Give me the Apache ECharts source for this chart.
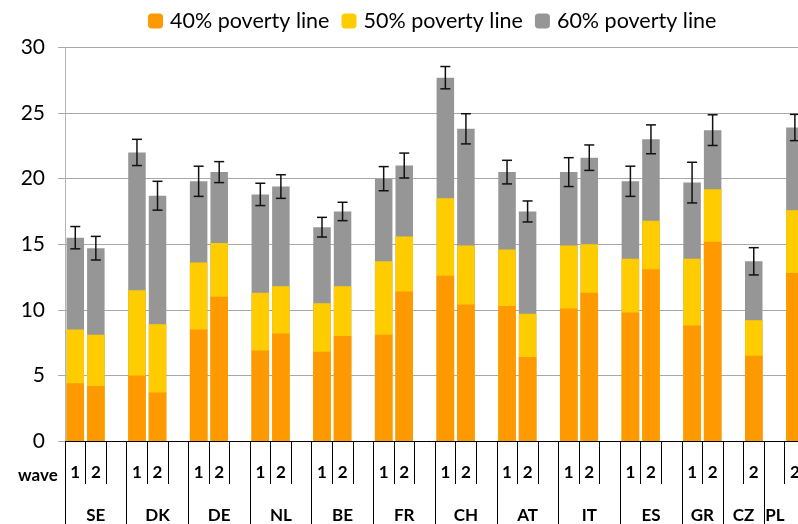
<!DOCTYPE html>
<html>
<head>
<meta charset="utf-8">
<script src="https://cdn.jsdelivr.net/npm/echarts@6/dist/echarts.min.js"></script>
<style>html,body{margin:0;padding:0;background:#fff;}#c{width:798px;height:524px;}</style>
</head>
<body>
<div id="c"></div>
<script>
// One entry per axis slot (wave 1, wave 2, spacer) ; null = no bar
const waveLabels = ['1','2','', '1','2','', '1','2','', '1','2','', '1','2','', '1','2','', '1','2','', '1','2','', '1','2','', '1','2','', '1','2', '','2', '','2'];
const pov40 = [4.4,4.2,null, 5.0,3.7,null, 8.5,11.0,null, 6.9,8.2,null, 6.8,8.0,null, 8.1,11.4,null, 12.6,10.4,null, 10.3,6.4,null, 10.1,11.3,null, 9.8,13.1,null, 8.8,15.2, null,6.5, null,12.8];
const pov50 = [8.5,8.1,null, 11.5,8.9,null, 13.6,15.1,null, 11.3,11.8,null, 10.5,11.8,null, 13.7,15.6,null, 18.5,14.9,null, 14.6,9.7,null, 14.9,15.0,null, 13.9,16.8,null, 13.9,19.2, null,9.2, null,17.6];
const pov60 = [15.5,14.7,null, 22.0,18.7,null, 19.8,20.5,null, 18.8,19.4,null, 16.3,17.5,null, 20.0,21.0,null, 27.7,23.8,null, 20.5,17.5,null, 20.5,21.6,null, 19.8,23.0,null, 19.7,23.7, null,13.7, null,23.9];
const err60 = [0.85,0.9,null, 1.0,1.1,null, 1.15,0.8,null, 0.85,0.9,null, 0.75,0.7,null, 0.92,0.95,null, 0.85,1.15,null, 0.9,0.8,null, 1.1,0.97,null, 1.15,1.1,null, 1.55,1.17, null,1.04, null,1.0];
const countries = ['SE','DK','DE','NL','BE','FR','CH','AT','IT','ES','GR','CZ','PL'];
const countrySpan = [3,3,3,3,3,3,3,3,3,3,2,2,2];
const seriesNames = ['40% poverty line','50% poverty line','60% poverty line'];
const yTicks = [0,5,10,15,20,25,30];

const FONT = 'Lato';
const boundaries = [0];
const centers = [];
countrySpan.forEach((s,i)=>{ const a = boundaries[boundaries.length-1]; centers.push(a + s/2); boundaries.push(a + s); });
const totalSlots = waveLabels.length;

const errData = [];
pov60.forEach((v,i)=>{ if (v!=null && err60[i]!=null) errData.push([i, v-err60[i], v+err60[i]]); });

const chart = echarts.init(document.getElementById('c'), null, {renderer:'canvas'});
const barBase = {type:'bar', xAxisIndex:0, yAxisIndex:0, barWidth:17.5, barGap:'-100%'};
chart.setOption({
  animation:false,
  textStyle:{fontFamily:FONT},
  title:{text:'wave', left:13, top:462, textStyle:{fontFamily:FONT, fontSize:17, fontWeight:'bold', color:'#000'}},
  legend:{
    data:seriesNames, left:143, top:5, itemWidth:15, itemHeight:15, itemGap:12,
    textStyle:{fontFamily:FONT, fontSize:21.5, color:'#000', padding:[0,0,0,2]}
  },
  grid:{left:65, top:47.5, width:totalSlots*20.56, height:393.5, containLabel:false, outerBoundsMode:'none'},
  xAxis:[{
    type:'category', data:waveLabels, position:'bottom', boundaryGap:true,
    axisLine:{show:true, lineStyle:{color:'#000', width:1}},
    axisTick:{show:true, interval:0, length:43, lineStyle:{color:'#000'}},
    axisLabel:{interval:0, margin:23, fontSize:17, fontWeight:'bold', color:'#000', fontFamily:FONT},
    splitLine:{show:false}
  },{
    type:'value', min:0, max:totalSlots, position:'bottom',
    axisLine:{show:false},
    axisTick:{show:true, customValues:boundaries, length:90, lineStyle:{color:'#000'}},
    axisLabel:{customValues:centers, margin:66, fontSize:17, fontWeight:'bold', color:'#000', fontFamily:FONT,
      alignMaxLabel:'right',
      formatter:(v)=>{ const k = centers.findIndex(c=>Math.abs(c-v)<1e-6); return k>=0 ? countries[k] : ''; }},
    splitLine:{show:false}
  }],
  yAxis:{
    type:'value', min:yTicks[0], max:yTicks[yTicks.length-1], interval:5,
    axisLine:{show:true, lineStyle:{color:'#B4B4B4'}},
    axisTick:{show:true, length:7, lineStyle:{color:'#A8A8A8'}},
    axisLabel:{fontSize:21, color:'#000', margin:20, fontFamily:FONT},
    splitLine:{show:true, lineStyle:{color:'#A8A8A8', width:1}}
  },
  series:[
    Object.assign({}, barBase, {name:seriesNames[0], data:pov40, itemStyle:{color:'#FF9900'}, z:4}),
    Object.assign({}, barBase, {name:seriesNames[1], data:pov50, itemStyle:{color:'#FFCC00'}, z:3}),
    Object.assign({}, barBase, {name:seriesNames[2], data:pov60, itemStyle:{color:'#969696'}, z:2}),
    {
      type:'custom', xAxisIndex:0, yAxisIndex:0, z:5, data:errData,
      encode:{x:0, y:[1,2]},
      renderItem:(params, api)=>{
        const lo = api.coord([api.value(0), api.value(1)]);
        const hi = api.coord([api.value(0), api.value(2)]);
        const x = lo[0], hw = 5;
        const st = {stroke:'#111', lineWidth:1.5};
        return {type:'group', children:[
          {type:'line', shape:{x1:x, y1:lo[1], x2:x, y2:hi[1]}, style:st},
          {type:'line', shape:{x1:x-hw, y1:lo[1], x2:x+hw, y2:lo[1]}, style:st},
          {type:'line', shape:{x1:x-hw, y1:hi[1], x2:x+hw, y2:hi[1]}, style:st}
        ]};
      }
    }
  ]
});
</script>
</body>
</html>
